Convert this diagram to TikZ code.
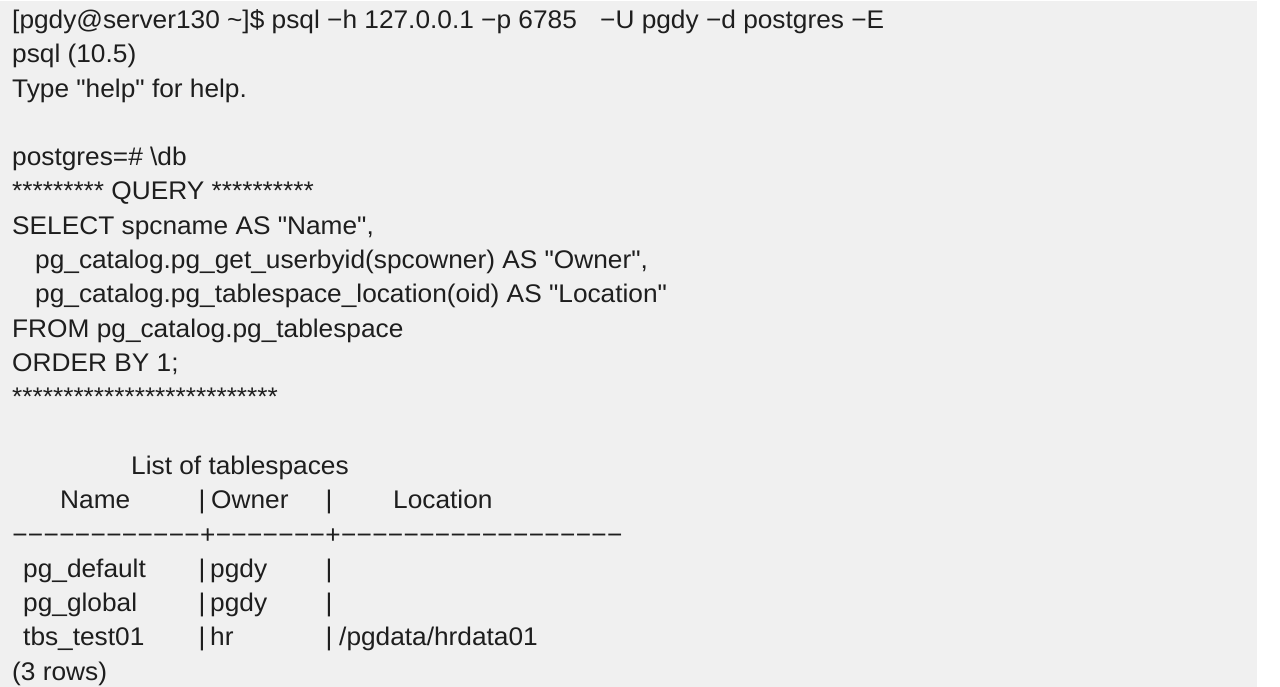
\documentclass[tikz,border=0pt]{standalone}
\usepackage{fontspec}
\setmainfont{Liberation Sans}[Ligatures=TeXOff, FakeStretch=1.03]
\definecolor{bggray}{HTML}{F0F0F0}
\definecolor{ink}{HTML}{1E1E1E}
\newcommand\slot[1]{\makebox[15.65pt]{#1}}
\tikzset{
  txt/.style={anchor=base west, inner sep=0pt, text=ink, font=\fontsize{25.5}{30}\selectfont},
  bar/.style={anchor=base, inner sep=0pt, text=ink, font=\fontsize{25.5}{30}\selectfont}
}
\begin{document}
\begin{tikzpicture}[x=1pt,y=-1pt]
\useasboundingbox (0,0) rectangle (1280,687);
\fill[white] (0,0) rectangle (1280,687);
\fill[bggray] (0,1) rectangle (1257,687);
\begin{scope}[yshift=-1.5pt]
% line baselines: 27 + (n-1)*34.3
\node[txt] (l1a) at (12,27) {[pgdy@server130 \textasciitilde]\$ psql −h 127.0.0.1 −p 6785};
\node[txt] (l1b) at (600,27) {−U pgdy −d postgres −E};
\node[txt] (l2) at (12,61.3) {psql (10.5)};
\node[txt] (l3) at (12,95.6) {Type "help" for help.};
\node[txt] (l5) at (12,164.2) {postgres=\# \textbackslash db};
\node[txt] (l6) at (12,198.5) {********* QUERY **********};
\node[txt] (l7) at (12,232.8) {SELECT spcname AS "Name",};
\node[txt] (l8) at (35,267.1) {pg\_catalog.pg\_get\_userbyid(spcowner) AS "Owner",};
\node[txt] (l9) at (35,301.4) {pg\_catalog.pg\_tablespace\_location(oid) AS "Location"};
\node[txt] (l10) at (12,335.7) {FROM pg\_catalog.pg\_tablespace};
\node[txt] (l11) at (12,370) {ORDER BY 1;};
\node[txt] (l12) at (12,404.3) {**************************};
\node[txt] (l14) at (131,472.9) {List of tablespaces};
% header
\node[txt] (hname) at (60,507.2) {Name};
\node[bar] (hb1) at (202,507.2) {|};
\node[txt] (howner) at (211,507.2) {Owner};
\node[bar] (hb2) at (329,507.2) {|};
\node[txt] (hloc) at (393,507.2) {Location};
% separator
\node[txt] (sep) at (12,541.5) {\slot{−}\slot{−}\slot{−}\slot{−}\slot{−}\slot{−}\slot{−}\slot{−}\slot{−}\slot{−}\slot{−}\slot{−}\slot{+}\slot{−}\slot{−}\slot{−}\slot{−}\slot{−}\slot{−}\slot{−}\slot{+}\slot{−}\slot{−}\slot{−}\slot{−}\slot{−}\slot{−}\slot{−}\slot{−}\slot{−}\slot{−}\slot{−}\slot{−}\slot{−}\slot{−}\slot{−}\slot{−}\slot{−}\slot{−}};
% rows
\node[txt] (r1n) at (23,575.8) {pg\_default};
\node[bar] (r1b1) at (202,575.8) {|};
\node[txt] (r1o) at (210,575.8) {pgdy};
\node[bar] (r1b2) at (329,575.8) {|};
\node[txt] (r2n) at (23,610.1) {pg\_global};
\node[bar] (r2b1) at (202,610.1) {|};
\node[txt] (r2o) at (210,610.1) {pgdy};
\node[bar] (r2b2) at (329,610.1) {|};
\node[txt] (r3n) at (23,644.4) {tbs\_test01};
\node[bar] (r3b1) at (202,644.4) {|};
\node[txt] (r3o) at (210,644.4) {hr};
\node[bar] (r3b2) at (329,644.4) {|};
\node[txt] (r3l) at (339,644.4) {/pgdata/hrdata01};
\node[txt] (l20) at (12,678.7) {(3 rows)};
\end{scope}
\end{tikzpicture}
\end{document}
